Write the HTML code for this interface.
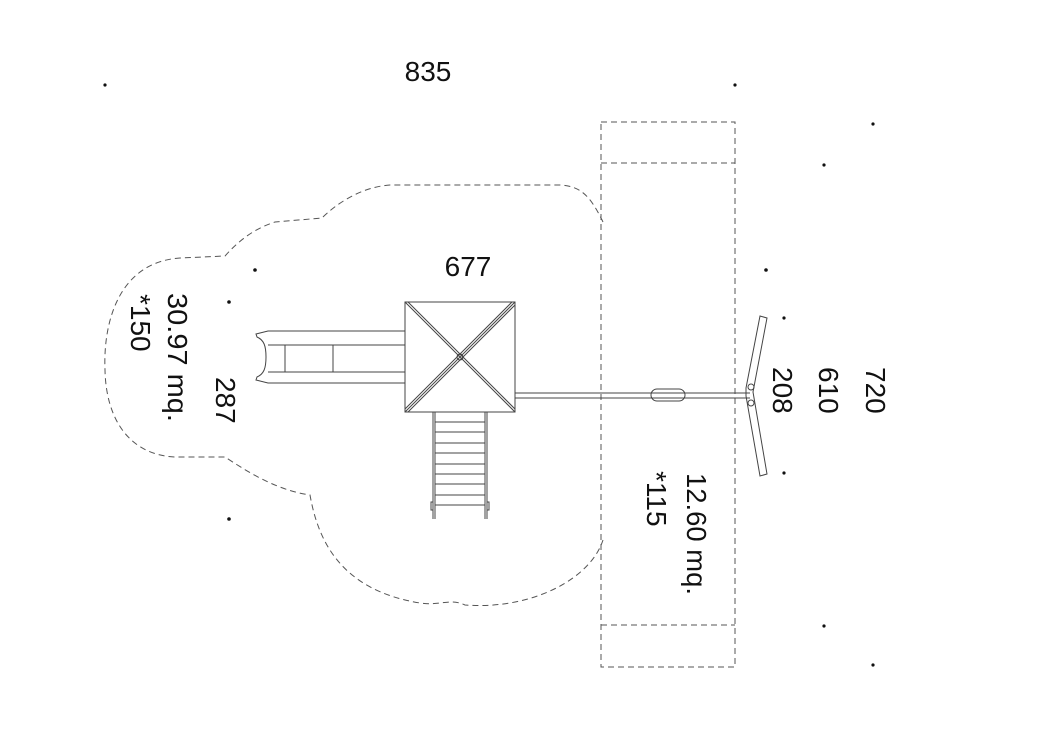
<!DOCTYPE html>
<html><head><meta charset="utf-8"><style>
html,body{margin:0;padding:0;background:#fff;}
svg{display:block;}
text{font-family:"Liberation Sans",sans-serif;font-size:28px;fill:#111;}
</style></head><body>
<svg width="1043" height="734" viewBox="0 0 1043 734" xmlns="http://www.w3.org/2000/svg">
<g fill="#111">
<circle cx="105" cy="85" r="1.6"/><circle cx="735" cy="85" r="1.6"/>
<circle cx="873" cy="124" r="1.6"/><circle cx="824" cy="165" r="1.6"/>
<circle cx="255" cy="270" r="1.8"/><circle cx="766" cy="270" r="1.8"/>
<circle cx="229" cy="302" r="1.8"/><circle cx="784" cy="318" r="1.6"/>
<circle cx="784" cy="473" r="1.6"/><circle cx="229" cy="519" r="1.8"/>
<circle cx="824" cy="626" r="1.6"/><circle cx="873" cy="665" r="1.6"/>
</g>
<g fill="none" stroke="#555" stroke-width="1" stroke-dasharray="6,4">
<path d="M603,222 C590,195 580,186 560,185 L390,185 C360,187 335,205 322,218 L275,222 C250,230 235,245 225,256 L180,258 C120,262 103,320 105,370 C106,420 130,455 175,457 L225,457 C245,470 275,490 310,495 C318,540 340,590 420,603 C440,606 450,598 465,605 C530,610 590,580 603,540"/>
<rect x="601" y="122" width="134" height="545"/>
<line x1="601" y1="163" x2="735" y2="163"/>
<line x1="601" y1="625" x2="735" y2="625"/>
</g>
<g fill="none" stroke="#444" stroke-width="1">
<rect x="405" y="302" width="110" height="110"/>
<line x1="405" y1="302" x2="515" y2="412"/><line x1="408" y1="302" x2="515" y2="409"/>
<line x1="515" y1="302" x2="405" y2="412"/><line x1="512" y1="302" x2="405" y2="409"/><line x1="515" y1="305" x2="408" y2="412"/>
<circle cx="460" cy="357" r="3"/>
<path d="M405,331 L268,331 L256,334 L257,337 C264,340 266,346 266,357 C266,368 264,374 257,377 L256,380 L268,383 L405,383"/>
<line x1="268" y1="345" x2="405" y2="345"/><line x1="268" y1="372" x2="405" y2="372"/>
<line x1="285" y1="345" x2="285" y2="372"/><line x1="333" y1="345" x2="333" y2="372"/>
<line x1="433" y1="412" x2="433" y2="519"/><line x1="435" y1="412" x2="435" y2="519"/>
<line x1="485" y1="412" x2="485" y2="519"/><line x1="487" y1="412" x2="487" y2="519"/>
<line x1="435" y1="422" x2="485" y2="422"/><line x1="435" y1="432" x2="485" y2="432"/><line x1="435" y1="443" x2="485" y2="443"/><line x1="435" y1="453" x2="485" y2="453"/><line x1="435" y1="464" x2="485" y2="464"/><line x1="435" y1="474" x2="485" y2="474"/><line x1="435" y1="484" x2="485" y2="484"/><line x1="435" y1="495" x2="485" y2="495"/><line x1="435" y1="505" x2="485" y2="505"/>
<rect x="431" y="502" width="2" height="8"/><rect x="487" y="502" width="2" height="8"/>
<line x1="515" y1="393" x2="750" y2="393"/><line x1="515" y1="398" x2="750" y2="398"/>
<rect x="651" y="389" width="34" height="12" rx="6"/>
<path d="M760,316 L767,318 L753,392 L767,474 L760,476 L746,396 L746,388 Z"/>
<circle cx="751" cy="387" r="3"/><circle cx="751" cy="403" r="3"/>
</g>
<text x="428" y="81" text-anchor="middle">835</text>
<text x="468" y="276" text-anchor="middle">677</text>
<text transform="translate(168,293) rotate(90)" textLength="129" lengthAdjust="spacingAndGlyphs">30.97 mq.</text>
<text transform="translate(131,294) rotate(90)">*150</text>
<text transform="translate(216,377) rotate(90)">287</text>
<text transform="translate(866,367) rotate(90)">720</text>
<text transform="translate(819,367) rotate(90)">610</text>
<text transform="translate(773,367) rotate(90)">208</text>
<text transform="translate(687,473) rotate(90)" textLength="122" lengthAdjust="spacingAndGlyphs">12.60 mq.</text>
<text transform="translate(647,471) rotate(90)">*115</text>
</svg>
</body></html>
